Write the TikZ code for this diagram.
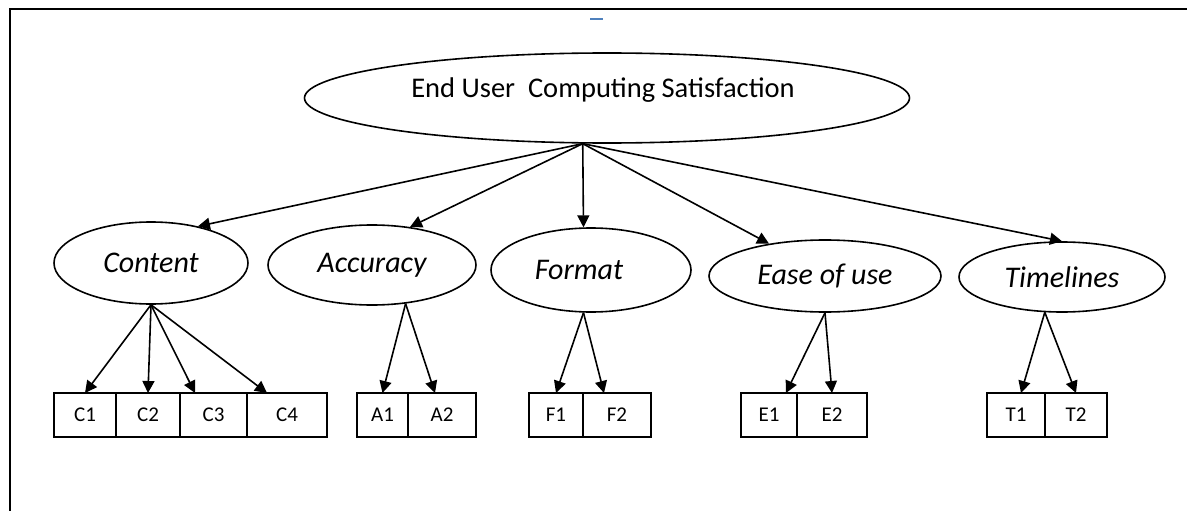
\documentclass[tikz,border=0pt]{standalone}
\usepackage{fontspec}
\setmainfont{Carlito}
\usetikzlibrary{arrows.meta}
\usetikzlibrary{shapes.geometric}
\definecolor{markblue}{RGB}{79,129,189}

\begin{document}
\begin{tikzpicture}[x=1pt,y=-1pt,
    factor/.style={draw,ellipse,line width=1.6pt,inner sep=0pt,
      font=\fontsize{30}{35}\selectfont\itshape},
    itembox/.style={draw,rectangle,line width=1.6pt,inner sep=0pt,outer sep=0pt,
      minimum height=44pt,anchor=west,font=\fontsize{21}{25}\selectfont},
    arr/.style={line width=1.6pt,-{Triangle[length=12pt,width=12pt]}}]
  \pgfmathsetmacro{\rowy}{415}

  \useasboundingbox (0,0) rectangle (1187,511);

  % Draw frame
  \draw[line width=2.5pt] (10,511) -- (10,9) -- (1187,9);

  % Draw small mark
  \draw[line width=2pt,markblue] (590,19.5) -- (603,19.5);

  % Draw top ellipse
  \node[draw,ellipse,line width=1.6pt,minimum width=605pt,minimum height=90pt] (ecs) at (607,98) {};
  \node[anchor=base,font=\fontsize{28.5}{33}\selectfont] (ecslabel) at (603,97)
    {End User\ \ Computing Satisfaction};

  % Draw factors
  \node[factor,minimum width=194pt,minimum height=82pt] (content) at (151,263) {Content};
  \node[factor,minimum width=208pt,minimum height=80pt] (accuracy) at (372,265) {Accuracy};
  \node[factor,minimum width=200pt,minimum height=84pt] (format) at (591,270) {Format\kern24pt};
  \node[factor,minimum width=232pt,minimum height=72pt] (ease) at (825,276) {Ease of use};
  \node[factor,minimum width=206pt,minimum height=70pt] (timelines) at (1062,277) {Timelines};

  % Draw item boxes
  \node[itembox,minimum width=62pt] (c1) at (54,\rowy) {C1};
  \node[itembox,minimum width=64pt] (c2) at (c1.east) {C2};
  \node[itembox,minimum width=67pt] (c3) at (c2.east) {C3};
  \node[itembox,minimum width=80pt] (c4) at (c3.east) {C4};
  \node[itembox,minimum width=51pt] (a1) at (357,\rowy) {A1};
  \node[itembox,minimum width=68pt] (a2) at (a1.east) {A2};
  \node[itembox,minimum width=54pt] (f1) at (529,\rowy) {F1};
  \node[itembox,minimum width=68pt] (f2) at (f1.east) {F2};
  \node[itembox,minimum width=56pt] (e1) at (741,\rowy) {E1};
  \node[itembox,minimum width=70pt] (e2) at (e1.east) {E2};
  \node[itembox,minimum width=58pt] (t1) at (987,\rowy) {T1};
  \node[itembox,minimum width=62pt] (t2) at (t1.east) {T2};

  % Draw arrows to factors
  \coordinate (hub) at (ecs.242);
  \draw[arr] (hub) -- (content.38);
  \draw[arr] (hub) -- (accuracy.45);
  \draw[arr] (hub) -- (format.100);
  \draw[arr] (hub) -- (ease.150);
  \draw[arr] (hub) -- (timelines.north);

  % Draw arrows to items
  \draw[arr] (content.south) -- (c1.north);
  \draw[arr] (content.south) -- (c2.north);
  \draw[arr] (content.south) -- ([xshift=15pt]c3.north west);
  \draw[arr] (content.south) -- ([xshift=20pt]c4.north west);
  \draw[arr] (accuracy.-49) -- (a1.north);
  \draw[arr] (accuracy.-49) -- ([xshift=-7pt]a2.north);
  \draw[arr] (format.-100) -- (f1.north);
  \draw[arr] (format.-100) -- ([xshift=-13pt]f2.north);
  \draw[arr] (ease.south) -- ([xshift=17pt]e1.north);
  \draw[arr] (ease.south) -- (e2.north);
  \draw[arr] (timelines.-116) -- ([xshift=5pt]t1.north);
  \draw[arr] (timelines.-116) -- (t2.north);
\end{tikzpicture}
\end{document}
